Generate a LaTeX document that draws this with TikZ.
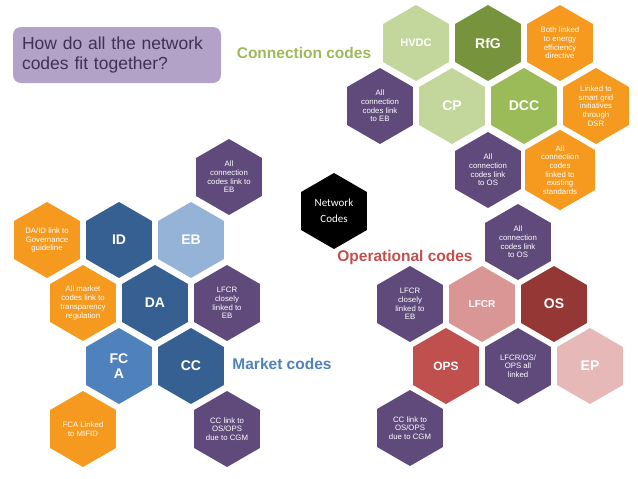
\documentclass[tikz,border=0pt]{standalone}
\usepackage{fontspec}
\setmainfont{Liberation Sans}
\newfontfamily\calibrifont{Carlito}
\usepackage{tikz}
\usetikzlibrary{shapes.geometric}

\definecolor{hexpurple}{HTML}{604A7B}
\definecolor{hexorange}{HTML}{F59A1F}
\definecolor{darkblue}{HTML}{376092}
\definecolor{lightblue}{HTML}{95B3D7}
\definecolor{midblue}{HTML}{4F81BD}
\definecolor{palegreen}{HTML}{C3D69B}
\definecolor{darkgreen}{HTML}{77933C}
\definecolor{midgreen}{HTML}{9BBB59}
\definecolor{pinkred}{HTML}{D99694}
\definecolor{darkred}{HTML}{953735}
\definecolor{midred}{HTML}{C0504D}
\definecolor{palepink}{HTML}{E6B9B8}
\definecolor{titlebox}{HTML}{B3A2C7}
\definecolor{titletext}{HTML}{403152}

\begin{document}
\begin{tikzpicture}[x=1pt, y=-1pt]
  % Set the node styles
  \tikzset{hexnode/.style={regular polygon, regular polygon sides=6, shape border rotate=30,
      minimum size=76pt, inner sep=0pt, outer sep=0pt, text=white, align=center},
    smallhex/.style={hexnode, font=\fontsize{7.8}{8.7}\selectfont},
    grouplabel/.style={font=\fontsize{15.5}{18}\selectfont\bfseries}}

  \useasboundingbox (0,0) rectangle (638,479);

  % Title box and group labels
  \node[rounded corners=8pt, fill=titlebox, minimum width=208pt, minimum height=56pt,
    text width=190pt, align=left, text=titletext, font=\fontsize{17.5}{19.5}\selectfont] (title) at (117,55)
    {How do all the network\\codes fit together?};
  \node[grouplabel, text=midgreen] (conlabel) at (304,53) {Connection codes};
  \node[grouplabel, text=midblue] (mktlabel) at (282,364) {Market codes};
  \node[grouplabel, text=midred] (oplabel) at (405,257) {Operational codes};

  % Network codes in the middle
  \node[hexnode, fill=black, font=\calibrifont\fontsize{11}{16}\selectfont] (netcodes) at (334,211) {Network\\Codes};

  % Draw the coloured code hexagons
  \foreach \name/\x/\y/\col/\size/\txt in {
      id/119/240/darkblue/14/ID, eb/191/240/lightblue/14/EB, da/155/303/darkblue/14/DA,
      fca/119/366/midblue/14/{FC\\A}, cc/191/366/darkblue/14/CC,
      hvdc/416/43/palegreen/11/HVDC, rfg/488/43/darkgreen/14/RfG,
      cp/452/106/palegreen/14/CP, dcc/524/106/midgreen/14/DCC,
      lfcr/482/304/pinkred/10/LFCR, os/554/304/darkred/14/OS,
      ops/446/366/midred/12/OPS, ep/590/366/palepink/14/EP}{
    \node[hexnode, fill=\col, font=\fontsize{\size}{15}\selectfont\bfseries] (\name) at (\x,\y) {\txt};
  }

  % Market code notes
  \node[smallhex, fill=hexorange] (mkgov) at (47,240) {DA/ID link to\\Governance\\guideline};
  \node[smallhex, fill=hexpurple] (mkeb) at (229,177) {All\\connection\\codes link to\\EB};
  \node[smallhex, fill=hexorange] (mktrans) at (83,303) {All market\\codes link to\\transparency\\regulation};
  \node[smallhex, fill=hexpurple] (mklfcr) at (227,303) {LFCR\\closely\\linked to\\EB};
  \node[smallhex, fill=hexorange] (mkmifid) at (83,429) {FCA Linked\\to MIFID};
  \node[smallhex, fill=hexpurple] (mkcgm) at (227,429) {CC link to\\OS/OPS\\due to CGM};

  % Connection code notes
  \node[smallhex, fill=hexorange] (conenergy) at (560,43) {Both linked\\to energy\\efficiency\\directive};
  \node[smallhex, fill=hexpurple] (coneb) at (380,106) {All\\connection\\codes link\\to EB};
  \node[smallhex, fill=hexorange] (consmart) at (596,106) {Linked to\\smart grid\\initiatives\\through\\DSR};
  \node[smallhex, fill=hexpurple] (conos) at (488,170) {All\\connection\\codes link\\to OS};
  \node[smallhex, fill=hexorange] (constd) at (560,170) {All\\connection\\codes\\linked to\\existing\\standards};

  % Operational code notes
  \node[smallhex, fill=hexpurple] (opconos) at (518,242) {All\\connection\\codes link\\to OS};
  \node[smallhex, fill=hexpurple] (oplfcr) at (410,304) {LFCR\\closely\\linked to\\EB};
  \node[smallhex, fill=hexpurple] (oplinked) at (518,366) {LFCR/OS/\\OPS all\\linked};
  \node[smallhex, fill=hexpurple] (opcgm) at (410,428) {CC link to\\OS/OPS\\due to CGM};
\end{tikzpicture}
\end{document}
